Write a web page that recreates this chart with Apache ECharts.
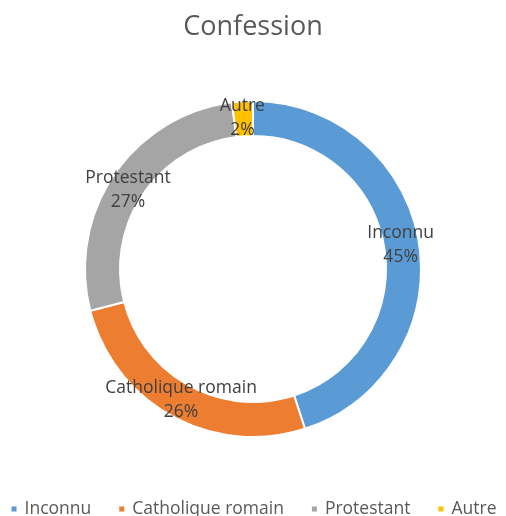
<!DOCTYPE html>
<html>
<head>
<meta charset="utf-8">
<script src="https://cdn.jsdelivr.net/npm/echarts@6/dist/echarts.min.js"></script>
<style>
  html, body { margin: 0; padding: 0; background: #fff; }
  #chart { width: 506px; height: 516px; }
</style>
</head>
<body>
<div id="chart"></div>
<script>
// données
const categories = ['Inconnu', 'Catholique romain', 'Protestant', 'Autre']
const values = [45, 26, 27, 2]
const colors = ['#5B9BD5', '#ED7D31', '#A5A5A5', '#FFC000']

const font = '"Open Sans", "Liberation Sans", sans-serif'

// petits décalages des étiquettes (position Excel)
const labelOffsets = [[-4, 0], [2, -3], [2, 7], [-1, 2]]

let chart = echarts.init(document.getElementById('chart'))
let option = {
  backgroundColor: '#fff',
  color: colors,
  title: {
    text: 'Confession',
    left: 'center',
    top: 9,
    textStyle: {
      fontFamily: font,
      fontSize: 27,
      fontWeight: 'normal',
      color: '#595959'
    }
  },
  legend: {
    data: categories,
    top: 495,
    left: 'center',
    icon: 'rect',
    itemWidth: 7,
    itemHeight: 7,
    itemGap: 26,
    textStyle: {
      fontFamily: font,
      fontSize: 17.5,
      color: '#595959',
      padding: [0, 0, 0, 2]
    }
  },
  series: [
    {
      type: 'pie',
      center: [253, 269],
      radius: [133, 168],
      startAngle: 90,
      clockwise: true,
      avoidLabelOverlap: false,
      itemStyle: {
        borderColor: '#fff',
        borderWidth: 2
      },
      label: {
        show: true,
        position: 'inside',
        formatter: '{b}\n{d}%',
        fontFamily: font,
        fontSize: 17.5,
        lineHeight: 24,
        color: '#404040'
      },
      labelLine: { show: false },
      emphasis: { disabled: true },
      data: categories.map((name, i) => ({
        name: name,
        value: values[i],
        label: { offset: labelOffsets[i] }
      }))
    }
  ]
}
option && chart.setOption(option)
</script>
</body>
</html>
